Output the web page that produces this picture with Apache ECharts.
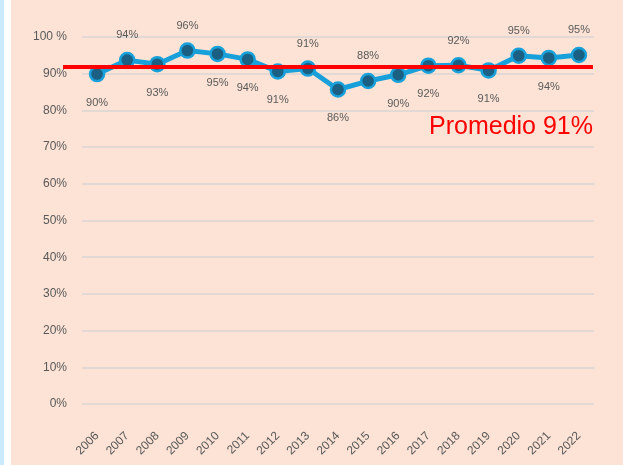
<!DOCTYPE html>
<html>
<head>
<meta charset="utf-8">
<title>Promedio</title>
<script src="https://cdn.jsdelivr.net/npm/echarts@6/dist/echarts.min.js"></script>
<style>
    body{margin:0;width:623px;height:465px;overflow:hidden;background:#fce3d6;}
    #stripBlue{position:absolute;left:0;top:0;width:4px;height:465px;background:#c9ebfb;}
    #stripWhite{position:absolute;left:4px;top:0;width:7px;height:465px;background:#ffffff;}
    #main{position:absolute;left:11px;top:0;width:612px;height:465px;}
</style>
</head>
<body>
<div id="stripBlue"></div>
<div id="stripWhite"></div>
<div id="main"></div>
<script>
//años
var years = ['2006','2007','2008','2009','2010','2011','2012','2013','2014','2015','2016','2017','2018','2019','2020','2021','2022'];
//porcentajes
var values = [89.9, 93.7, 92.6, 96.3, 95.4, 93.9, 90.6, 91.4, 85.7, 88.0, 89.7, 92.2, 92.3, 90.9, 94.9, 94.3, 95.1];
//posicion de etiqueta
var labelPos = ['bottom','top','bottom','top','bottom','bottom','bottom','top','bottom','top','bottom','bottom','top','bottom','top','bottom','top'];
//promedio
var promedio = 91.8;
var promedioText = 'Promedio 91%';
var yTicks = [0, 10, 20, 30, 40, 50, 60, 70, 80, 90, 100];

var font = 'Liberation Sans, Arial, sans-serif';
var myChart = echarts.init(document.getElementById('main'));

var seriesData = values.map(function (v, i) {
    return {
        value: v,
        label: {position: labelPos[i], distance: labelPos[i] == 'top' ? 11 : 15}
    };
});

var option = {
    animation: false,
    textStyle: {fontFamily: font},
    title: {
        text: promedioText,
        right: 25,
        top: 110,
        textStyle: {color: '#ff0000', fontSize: 25, fontWeight: 'normal', fontFamily: font}
    },
    grid: {
        left: 71,
        right: 29,
        top: 37,
        bottom: 61
    },
    xAxis: {
        type: 'category',
        data: years,
        boundaryGap: true,
        axisLine: {show: false},
        axisTick: {show: false},
        axisLabel: {
            rotate: 45,
            margin: 30,
            fontSize: 12,
            color: '#595959',
            fontFamily: font
        }
    },
    yAxis: {
        type: 'value',
        min: yTicks[0],
        max: yTicks[yTicks.length - 1],
        interval: 10,
        axisLine: {show: false},
        axisTick: {show: false},
        axisLabel: {
            margin: 15,
            fontSize: 12,
            color: '#595959',
            fontFamily: font,
            formatter: function (v) {
                return v === 100 ? '100 %' : v + '%';
            }
        },
        splitLine: {lineStyle: {color: '#dad6d4', width: 1.5}}
    },
    series: [
        {
            type: 'line',
            data: seriesData,
            symbol: 'circle',
            symbolSize: 14,
            z: 3,
            lineStyle: {color: '#17a0d9', width: 5},
            itemStyle: {color: '#1b5f83', borderColor: '#17a0d9', borderWidth: 2.5},
            label: {
                show: true,
                fontSize: 11,
                color: '#595959',
                fontFamily: font,
                formatter: function (p) {
                    return Math.round(p.value) + '%';
                }
            },
            markLine: {
                silent: true,
                symbol: 'none',
                z: 4,
                label: {show: false},
                lineStyle: {color: '#ff0000', width: 4, type: 'solid'},
                data: [
                    [
                        {coord: [years[0], promedio], x: 52},
                        {coord: [years[years.length - 1], promedio], x: 582}
                    ]
                ]
            }
        }
    ]
};
myChart.setOption(option);
</script>
</body>
</html>
